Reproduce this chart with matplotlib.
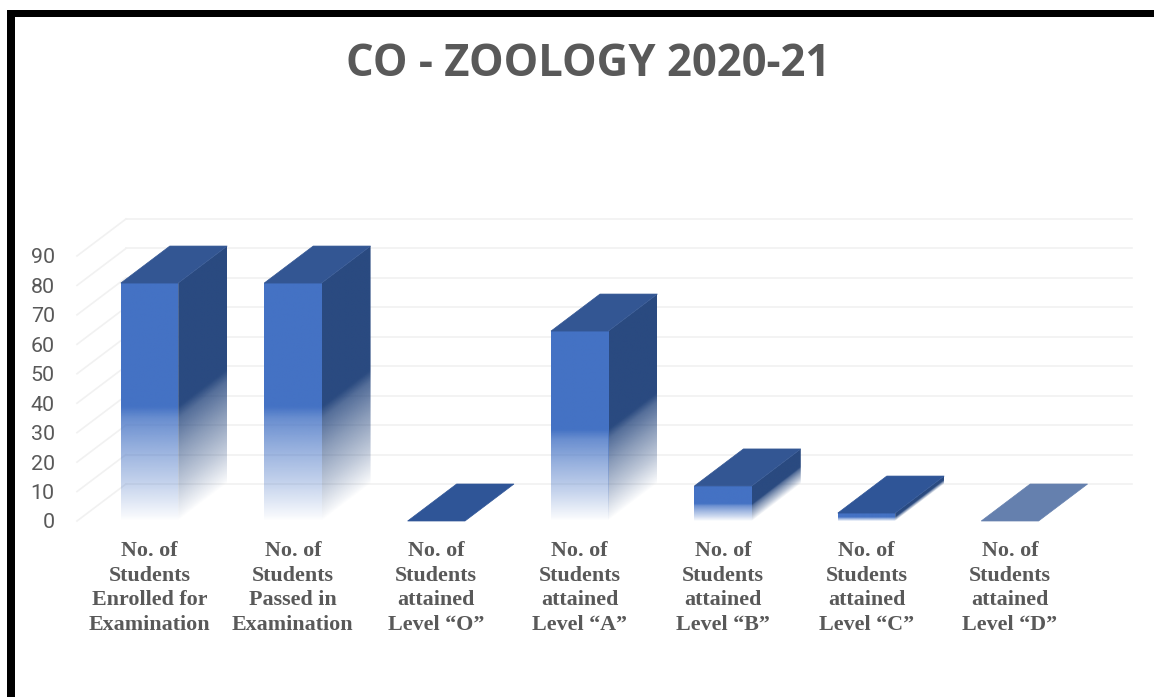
# coding:utf-8
import numpy as np
import matplotlib.pyplot as plt
from matplotlib.patches import Polygon, Rectangle

categories = ['No. of\nStudents\nEnrolled for\nExamination',
              'No. of\nStudents\nPassed in\nExamination',
              'No. of\nStudents\nattained\nLevel “O”',
              'No. of\nStudents\nattained\nLevel “A”',
              'No. of\nStudents\nattained\nLevel “B”',
              'No. of\nStudents\nattained\nLevel “C”',
              'No. of\nStudents\nattained\nLevel “D”']
values = [80.8, 80.8, 0, 64.5, 11.9, 2.7, 0]
y_ticks = [0, 10, 20, 30, 40, 50, 60, 70, 80, 90]
title = 'CO - ZOOLOGY 2020-21'

front_color = '#4472c4'
side_color = '#2a4a80'
top_colors = ['#335693', '#335693', '#2f5597', '#335693', '#335693', '#2f5597', '#6580ae']
grid_color = '#f1f1f1'
text_color = '#595959'

W, H = 1154, 697
bar_w = 0.4
depth_x = 49 / 143.4
depth_y = 37 / 2.945

fig = plt.figure(figsize=(W / 100, H / 100), dpi=100)
ax = fig.add_axes([77 / W, 1 - 521 / H, (1132 - 77) / W, (521 - 219) / H])
xlim = ((77 - 149.5) / 143.4, (1132 - 149.5) / 143.4)
ylim = (0, 302 / 2.945)


def fade(h):
    return np.interp(h, [0.0, 0.02, 0.15, 0.30, 0.43, 0.48, 1.0],
                     [0.0, 0.05, 0.30, 0.55, 0.80, 1.0, 1.0])


def shaded(color, alpha, extent, clip, z):
    rgba = np.zeros(alpha.shape + (4,))
    rgba[..., :3] = plt.matplotlib.colors.to_rgb(color)
    rgba[..., 3] = alpha
    im = ax.imshow(rgba, extent=extent, origin='lower', aspect='auto',
                   interpolation='bilinear', zorder=z)
    patch = Polygon(clip, closed=True, transform=ax.transData)
    im.set_clip_path(patch)
    im.set_clip_on(True)


# back wall and floor grid
x0 = xlim[0]
for v in y_ticks:
    ax.plot([x0 + depth_x, xlim[1]], [v + depth_y, v + depth_y], color=grid_color, lw=1.2,
            clip_on=False, zorder=1)
    ax.plot([x0, x0 + depth_x], [v, v + depth_y], color=grid_color, lw=1.2,
            clip_on=False, zorder=1)

for i, v in enumerate(values):
    left, right = i - bar_w / 2, i + bar_w / 2
    if v > 0:
        # side face, fade follows the depth shear
        uu = np.linspace(0, 1, 120)
        yy = np.linspace(0, v + depth_y, 300)
        U, Y = np.meshgrid(uu, yy)
        a = fade(np.clip((Y - U * depth_y) / v, 0, 1))
        shaded(side_color, a, (right, right + depth_x, 0, v + depth_y),
               [(right, 0), (right + depth_x, depth_y),
                (right + depth_x, v + depth_y), (right, v)], 2.5)
        # front face
        yy = np.linspace(0, v, 200)
        a = fade(yy / v)[:, None]
        shaded(front_color, a, (left, right + 0.002, 0, v),
               [(left, 0), (right + 0.002, 0), (right + 0.002, v), (left, v)], 3)
    # top face
    ax.fill([left, right, right + depth_x, left + depth_x],
            [v, v, v + depth_y, v + depth_y], facecolor=top_colors[i],
            edgecolor=top_colors[i], lw=0.5, zorder=4, clip_on=False)

ax.set_xlim(xlim)
ax.set_ylim(ylim)
for s in ax.spines.values():
    s.set_visible(False)
ax.patch.set_alpha(0)
ax.set_yticks(y_ticks)
ax.set_yticklabels([str(t) for t in y_ticks], family='Roboto', fontsize=15.4, color=text_color)
ax.set_xticks(range(len(categories)))
ax.set_xticklabels(categories, family='Liberation Serif', fontweight='bold', fontsize=15.8,
                   color=text_color, linespacing=1.3)
ax.tick_params(axis='both', length=0)
ax.tick_params(axis='y', pad=16)
ax.tick_params(axis='x', pad=14.5)

fig.text(588 / W, 1 - 64 / H, title, family='Open Sans', fontweight='bold', fontsize=31.4,
         color=text_color, ha='center', va='center')

# black frame of the screenshot
fig.add_artist(Rectangle((7 / W, 0), 8 / W, 1 - 10 / H, transform=fig.transFigure, color='black', lw=0))
fig.add_artist(Rectangle((7 / W, 1 - 17 / H), 1 - 7 / W, 7 / H, transform=fig.transFigure, color='black', lw=0))

fig.savefig('out.png', dpi=100)
